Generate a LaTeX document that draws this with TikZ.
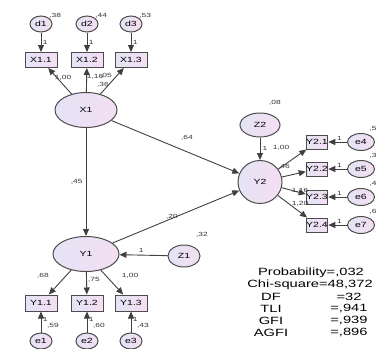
\documentclass[tikz,border=0pt]{standalone}
\usepackage{fontspec}
\setmainfont{Liberation Sans}[FakeStretch=1.4]
\usetikzlibrary{arrows.meta, shapes.geometric}
\definecolor{lavA}{RGB}{228,228,246}
\definecolor{lavB}{RGB}{244,222,242}
\tikzset{
  lat/.style={ellipse, draw=black!70, line width=1pt, left color=lavA, right color=lavB,
    inner sep=0pt, font=\fontsize{7.5}{8}\selectfont},
  obs/.style={rectangle, draw=black!70, line width=1pt, left color=lavA, right color=lavB,
    inner sep=1pt, minimum height=15pt, font=\fontsize{7.5}{8}\selectfont},
  pth/.style={draw=black!75, line width=0.9pt, -{Triangle[length=7pt, width=6pt]}},
  est/.style={font=\fontsize{6}{6}\selectfont, inner sep=0pt, text=black!80},
  stat/.style={font=\fontsize{10.5}{12}\selectfont, inner sep=0pt}
}
\begin{document}
\begin{tikzpicture}[x=1pt, y=-1pt]
\useasboundingbox (0,0) rectangle (376,349);
% latent variables
\node[lat, minimum width=62pt, minimum height=35pt] (X1) at (86,110) {X1};
\node[lat, minimum width=66pt, minimum height=35pt] (Y1) at (86,254) {Y1};
\node[lat, minimum width=44pt, minimum height=43pt] (Y2) at (260,182) {Y2};
\node[lat, minimum width=32pt, minimum height=22pt] (Z1) at (184,256) {Z1};
\node[lat, minimum width=40pt, minimum height=24pt] (Z2) at (260,125) {Z2};
\node[est] (vZ1) at (202,235) {,32};
\node[est] (vZ2) at (275,103) {,08};
% indicators of X1
\foreach \i/\x/\v in {1/41/38, 2/87/44, 3/131/53} {
  \node[obs, minimum width=32pt] (X1\i) at (\x,60) {X1.\i};
  \node[lat, minimum width=22pt, minimum height=16pt] (d\i) at (\x,24) {d\i};
  \node[est, anchor=south west] (vd\i) at (d\i.north east) {,\v};
  \draw[pth] (d\i) -- node[est, right=1.5pt] (wd\i) {1} (X1\i);
  \draw[pth] (X1) -- (X1\i);
}
\node[est] (lX11) at (63,78) {1,00};
\node[est] (lX12) at (95,77) {1,16};
\node[est] (lX13) at (106,76) {,05};
\node[est] (rX13) at (103,85) {,36};
% indicators of Y1
\foreach \i/\x/\v in {1/41/59, 2/87/60, 3/131/43} {
  \node[obs, minimum width=32pt, minimum height=16pt] (Y1\i) at (\x,303) {Y1.\i};
  \node[lat, minimum width=22pt, minimum height=16pt] (e\i) at (\x,341) {e\i};
  \node[est] (ve\i) at (\x+12,326) {,\v};
  \draw[pth] (e\i) -- node[est, right=1.5pt, pos=.6] (we\i) {1} (Y1\i);
  \draw[pth] (Y1) -- (Y1\i);
}
\node[est] (lY11) at (43,276) {,68};
\node[est] (lY12) at (94,280) {,75};
\node[est] (lY13) at (130,276) {1,00};
% indicators of Y2
\foreach \i/\y/\v [evaluate=\i as \j using int(\i+3)] in {1/142/5, 2/169/3, 3/197/4, 4/225/6} {
  \node[obs, minimum width=21pt, minimum height=14pt, inner sep=0pt] (Y2\i) at (317,\y) {Y2.\i};
  \node[lat, minimum width=27pt, minimum height=17pt] (e\j) at (361,\y) {e\j};
  \node[est] (ve\j) at (373,\y-13) {,\v};
  \draw[pth] (e\j) -- node[est, above=1.5pt, pos=.4] (we\j) {1} (Y2\i);
  \draw[pth] (Y2) -- (Y2\i);
}
\node[est] (lY21) at (281,148) {1,00};
\node[est] (lY22) at (284,167) {,46};
\node[est] (lY23) at (300,191) {1,16};
\node[est] (lY24) at (300,204) {1,20};
% structural paths
\draw[pth] (X1) -- node[est, left=3pt] (bX1Y1) {,45} (Y1);
\draw[pth] (X1) -- (Y2);
\node[est] (bX1Y2) at (187,138) {,64};
\draw[pth] (Y1) -- (Y2);
\node[est] (bY1Y2) at (172,217) {,20};
\draw[pth] (Z1) -- node[est, above=2pt, pos=.55] (wZ1) {1} (Y1);
\draw[pth] (Z2) -- (Y2);
\node[est] (wZ2) at (265,148) {1};
% fit indices
\node[stat] (prob) at (311,273) {Probability=,032};
\node[stat] (chi) at (310,285) {Chi-square=48,372};
\foreach \n/\k/\v/\y in {df/DF/=32/297, tli/TLI/{=,941}/309, gfi/GFI/{=,939}/321, agfi/AGFI/{=,896}/333} {
  \node[stat] (\n-l) at (271,\y) {\k};
  \node[stat] (\n-r) at (349,\y) {\v};
}
\end{tikzpicture}
\end{document}
